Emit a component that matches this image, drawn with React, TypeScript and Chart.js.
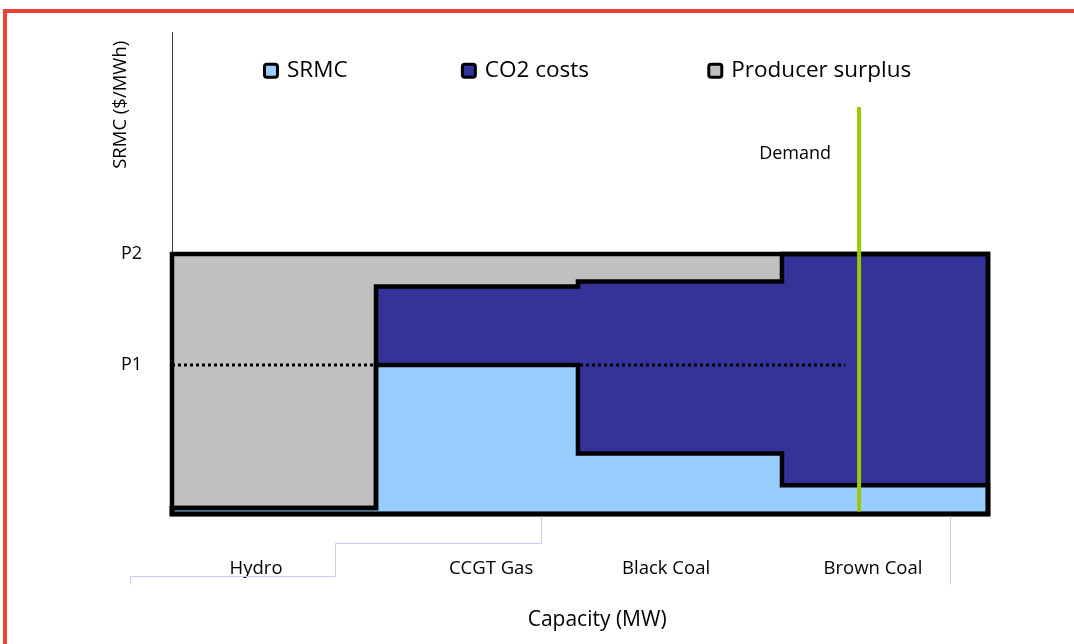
import React, { useEffect, useRef } from 'react';
import { Chart, registerables } from 'chart.js';

Chart.register(...registerables);

// ---------- data ----------
const technologies = ['Hydro', 'CCGT Gas', 'Black Coal', 'Brown Coal'];
const capacityBounds = [0, 1000, 1990, 2990, 4000]; // MW, cumulative capacity
const srmcValues = [2.3, 57.3, 23.3, 11.1];
const co2Values = [0, 30.2, 66.1, 88.9];
const surplusValues = [97.7, 12.5, 10.6, 0];
const priceTickValues = [57.3, 100];
const priceTickLabels = ['P1', 'P2'];
const p1LineX = [0, 3300];
const p1Value = 57.3;
const demandX = 3368;
const demandY = [1, 156.5];
const demandLabelY = 138.4;
const techLabelX = [412, 1564, 2422, 3436];
const seriesNames = ['SRMC', 'CO2 costs', 'Producer surplus'];
const seriesColors = ['#99ccff', '#333399', '#c0c0c0'];
const yMax = 185;
const xMax = 4000;
// leftover Excel category-axis bracket lines (data units)
const bracketA: number[][] = [[-206, -27.1], [-206, -23.7], [799, -23.7], [799, -11.1], [1809, -11.1], [1809, -0.8]];
const bracketB: number[][] = [[3814, -0.8], [3814, -27.1]];

// ---------- helpers ----------
const cumulative = (arrs: number[][]) =>
  arrs[0].map((_, i) => arrs.reduce((s, a) => s + a[i], 0));

const srmcTop = srmcValues;
const co2Top = cumulative([srmcValues, co2Values]);
const surplusTop = cumulative([srmcValues, co2Values, surplusValues]);

function stepShape(tops: number[]) {
  const pts: { x: number; y: number }[] = [{ x: capacityBounds[0], y: 0 }];
  tops.forEach((t, i) => {
    pts.push({ x: capacityBounds[i], y: t });
    pts.push({ x: capacityBounds[i + 1], y: t });
  });
  pts.push({ x: capacityBounds[capacityBounds.length - 1], y: 0 });
  return pts;
}
const closedShape = (tops: number[]) => [...stepShape(tops), { x: capacityBounds[0], y: 0 }];

const FONT = "'Open Sans', sans-serif";

const decorPlugin = {
  id: 'decor',
  afterDraw(chart: any) {
    const { ctx, chartArea, scales } = chart;
    const xs = scales.x;
    const ys = scales.y;
    ctx.save();
    // bracket lines
    ctx.strokeStyle = '#cfcbea';
    ctx.lineWidth = 1;
    [bracketA, bracketB].forEach((poly) => {
      ctx.beginPath();
      poly.forEach(([vx, vy], i) => {
        const px = Math.round(xs.getPixelForValue(vx)) + 0.5;
        const py = Math.round(ys.getPixelForValue(vy)) + 0.5;
        if (i === 0) ctx.moveTo(px, py);
        else ctx.lineTo(px, py);
      });
      ctx.stroke();
    });
    ctx.fillStyle = '#000';
    // Demand label
    ctx.font = `18px ${FONT}`;
    ctx.textAlign = 'right';
    ctx.textBaseline = 'middle';
    ctx.fillText('Demand', xs.getPixelForValue(demandX) - 28, ys.getPixelForValue(demandLabelY));
    // x axis title
    ctx.font = `21px ${FONT}`;
    ctx.textAlign = 'center';
    ctx.fillText('Capacity (MW)', chartArea.left + chartArea.width * 0.521, chartArea.bottom + 106);
    // y axis title
    ctx.save();
    ctx.translate(chartArea.left - 51, chartArea.top + 72);
    ctx.rotate(-Math.PI / 2);
    ctx.font = `18.5px ${FONT}`;
    ctx.fillText('SRMC ($/MWh)', 0, 0);
    ctx.restore();
    // legend
    const legendFrac = [0.1115, 0.354, 0.656];
    const ly = chartArea.top + 38;
    ctx.font = `22.5px ${FONT}`;
    ctx.textAlign = 'left';
    seriesNames.forEach((name, i) => {
      const lx = chartArea.left + chartArea.width * legendFrac[i];
      ctx.fillStyle = seriesColors[i];
      ctx.strokeStyle = '#000';
      ctx.lineWidth = 3;
      ctx.beginPath();
      (ctx as any).roundRect(lx + 1.5, ly - 6.5, 13, 13, 2.5);
      ctx.fill();
      ctx.stroke();
      ctx.fillStyle = '#000';
      ctx.fillText(name, lx + 24, ly - 0.5);
    });
    ctx.restore();
  },
};

export default function App() {
  const ref = useRef<HTMLCanvasElement | null>(null);
  useEffect(() => {
    if (!ref.current) return;
    Chart.defaults.font.family = FONT;
    Chart.defaults.color = '#000';
    const tops = [srmcTop, co2Top, surplusTop];
    const fillSets = tops.map((t, i) => ({
      label: seriesNames[i] + ' fill',
      data: stepShape(t),
      backgroundColor: seriesColors[i],
      borderWidth: 0,
      borderColor: 'transparent',
      fill: 'origin',
      pointRadius: 0,
      order: 10 + i,
    }));
    const outlineSets = tops.map((t, i) => ({
      label: seriesNames[i],
      data: closedShape(t),
      borderColor: '#000',
      borderWidth: 4.5,
      borderJoinStyle: 'miter' as const,
      borderCapStyle: 'square' as const,
      fill: false,
      pointRadius: 0,
      clip: false as any,
      order: 5 + i,
    }));
    const chart = new Chart(ref.current, {
      type: 'line',
      data: {
        datasets: [
          ...fillSets,
          ...outlineSets,
          {
            label: 'P1',
            data: p1LineX.map((x) => ({ x, y: p1Value })),
            borderColor: '#000',
            borderWidth: 3,
            borderDash: [3, 3],
            fill: false,
            pointRadius: 0,
            order: 2,
          },
          {
            label: 'Demand',
            data: demandY.map((y) => ({ x: demandX, y })),
            borderColor: '#99cc00',
            borderWidth: 4,
            fill: false,
            pointRadius: 0,
            clip: false as any,
            order: 1,
          },
        ] as any,
      },
      options: {
        animation: false,
        responsive: false,
        devicePixelRatio: 1,
        events: [],
        layout: { padding: { top: 30, right: 86, left: 0, bottom: 0 } },
        plugins: { legend: { display: false }, tooltip: { enabled: false } },
        scales: {
          x: {
            type: 'linear',
            min: 0,
            max: xMax,
            grid: { display: false },
            border: { display: false },
            afterBuildTicks: (s: any) => {
              s.ticks = techLabelX.map((v) => ({ value: v }));
            },
            afterFit: (s: any) => {
              s.height = 130;
            },
            ticks: {
              autoSkip: false,
              maxRotation: 0,
              padding: 36,
              font: { size: 18.5 },
              color: '#000',
              callback: (_v: any, i: number) => technologies[i],
            },
          },
          y: {
            type: 'linear',
            min: 0,
            max: yMax,
            grid: { display: false },
            border: { display: true, color: '#404040', width: 1 },
            afterBuildTicks: (s: any) => {
              s.ticks = priceTickValues.map((v) => ({ value: v }));
            },
            afterFit: (s: any) => {
              s.width = 172;
            },
            ticks: {
              padding: 22,
              font: { size: 18 },
              color: '#000',
              callback: (_v: any, i: number) => priceTickLabels[i],
            },
          },
        },
      },
      plugins: [decorPlugin],
    });
    return () => chart.destroy();
  }, []);

  return (
    <>
      <div
        style={{
          position: 'fixed',
          left: 3,
          top: 9,
          width: 2000,
          height: 2000,
          border: '4px solid #ea4335',
          pointerEvents: 'none',
        }}
      />
      <div style={{ position: 'fixed', left: 0, top: 0, width: 1074, height: 644 }}>
        <canvas ref={ref} width={1074} height={644} style={{ display: 'block' }} />
      </div>
    </>
  );
}
